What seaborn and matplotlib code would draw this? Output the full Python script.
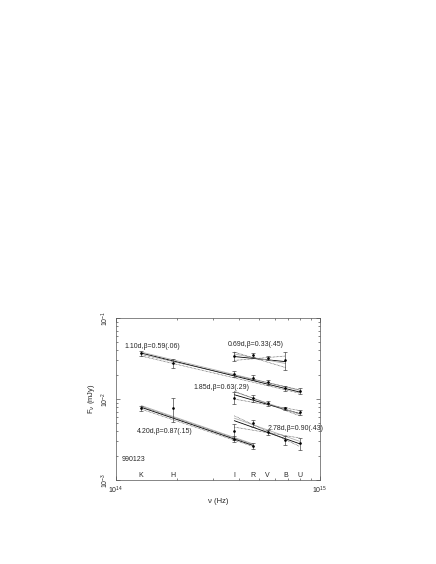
import numpy as np
import pandas as pd
import matplotlib
matplotlib.use("Agg")
import matplotlib.pyplot as plt
from matplotlib.ticker import NullFormatter
import seaborn as sns

# band frequencies (Hz)
bands = ["K", "H", "I", "R", "V", "B", "U"]
nu = [1.33e14, 1.90e14, 3.80e14, 4.68e14, 5.54e14, 6.77e14, 7.95e14]

# flux points per epoch (mJy) and errors
f_110 = [0.0366, 0.0276, 0.0205, 0.0183, 0.0161, 0.0135, 0.0126]
e_110 = [0.0025, 0.0035, 0.0017, 0.0013, 0.0012, 0.0010, 0.0011]
f_069 = [0.0340, 0.0349, 0.0324, 0.0303]
e_069 = [0.0045, 0.0018, 0.0017, 0.0075]
f_185 = [0.0104, 0.0102, 0.00885, 0.00767, 0.00685]
e_185 = [0.0017, 0.0009, 0.0006, 0.0004, 0.0005]
f_420 = [0.00767, 0.00767, 0.0032, 0.00263]
e_420 = [0.0005, 0.0025, 0.00025, 0.0002]
f_278 = [0.00403, 0.00502, 0.00389, 0.00312, 0.00284]
e_278 = [0.0009, 0.0005, 0.0003, 0.0004, 0.0005]

# fitted power laws: (start, end) flux at first/last band of each epoch
fit_110 = {"solid": (0.0370, 0.0122), "gray": (0.0380, 0.0128),
           "dot1": (0.0355, 0.0130), "dot2": (0.0340, 0.0118)}
fit_069 = {"solid": (0.0335, 0.0290), "gray": (0.0360, 0.0275),
           "dot1": (0.0380, 0.0245), "dot2": (0.0300, 0.0340)}
fit_185 = {"solid": (0.0113, 0.0066), "gray": (0.0123, 0.0065),
           "dot1": (0.0100, 0.0072), "dot2": (0.0125, 0.0062)}
fit_420 = {"solid": (0.0079, 0.00268), "gray": (0.0083, 0.0028),
           "dot1": (0.0075, 0.0026), "dot2": (0.0081, 0.00275)}
fit_278 = {"solid": (0.0054, 0.0028), "gray": (0.0058, 0.0030),
           "dot1": (0.0062, 0.0026), "dot2": (0.0045, 0.0033)}

epochs = [
    ("1.10d,β=0.59(.06)", bands, f_110, e_110, fit_110, (1.105e14, 0.0440)),
    ("0.69d,β=0.33(.45)", ["I", "R", "V", "B"], f_069, e_069, fit_069, (3.54e14, 0.0477)),
    ("1.85d,β=0.63(.29)", ["I", "R", "V", "B", "U"], f_185, e_185, fit_185, (2.41e14, 0.0137)),
    ("4.20d,β=0.87(.15)", ["K", "H", "I", "R"], f_420, e_420, fit_420, (1.26e14, 0.00394)),
    ("2.78d,β=0.90(.43)", ["I", "R", "V", "B", "U"], f_278, e_278, fit_278, (5.54e14, 0.00427)),
]

sns.set_style("ticks")
plt.rcParams["font.family"] = ["Liberation Sans", "DejaVu Sans"]

fig = plt.figure(figsize=(4.36, 5.64), dpi=100)
ax = fig.add_axes([0.266, 0.149, 0.468, 0.287])

styles = {"gray": dict(color="#b0b0b0", lw=0.6, ls="-"),
          "dot1": dict(color="#444444", lw=0.5, ls=(0, (1, 1))),
          "dot2": dict(color="#444444", lw=0.5, ls=(0, (1, 1))),
          "solid": dict(color="black", lw=0.6, ls="-")}

for label, bl, f, e, fit, pos in epochs:
    x = [nu[bands.index(b)] for b in bl]
    for key, (a, b) in fit.items():
        df = pd.DataFrame({"nu": [x[0], x[-1]], "F": [a, b]})
        sns.lineplot(data=df, x="nu", y="F", ax=ax, **styles[key])
    ax.errorbar(x, f, yerr=e, fmt="o", ms=0.9, color="black",
                ecolor="#333333", elinewidth=0.45, capsize=1.3, capthick=0.45)
    ax.text(pos[0], pos[1], label, fontsize=5, ha="left", va="center")

for b, n in zip(bands, nu):
    ax.text(n, 0.00112, b, fontsize=5, ha="center", va="center")
ax.text(1.066e14, 0.00177, "990123", fontsize=5, ha="left", va="center")

ax.set_xscale("log")
ax.set_yscale("log")
ax.set_xlim(1e14, 1e15)
ax.set_ylim(1e-3, 1e-1)
ax.xaxis.set_minor_formatter(NullFormatter())
ax.yaxis.set_minor_formatter(NullFormatter())
ax.set_xlabel("ν (Hz)", fontsize=5.5, labelpad=1)
ax.set_ylabel("F$_ν$ (mJy)", fontsize=5.5, labelpad=2)
ax.tick_params(which="both", direction="in", top=True, right=True,
               labelsize=5, width=0.4)
ax.tick_params(which="major", length=3)
ax.tick_params(which="minor", length=1.5)
plt.setp(ax.get_yticklabels(), rotation=90, va="center")
for s in ax.spines.values():
    s.set_linewidth(0.5)
    s.set_color("#555555")

fig.savefig("out.png", dpi=100)
